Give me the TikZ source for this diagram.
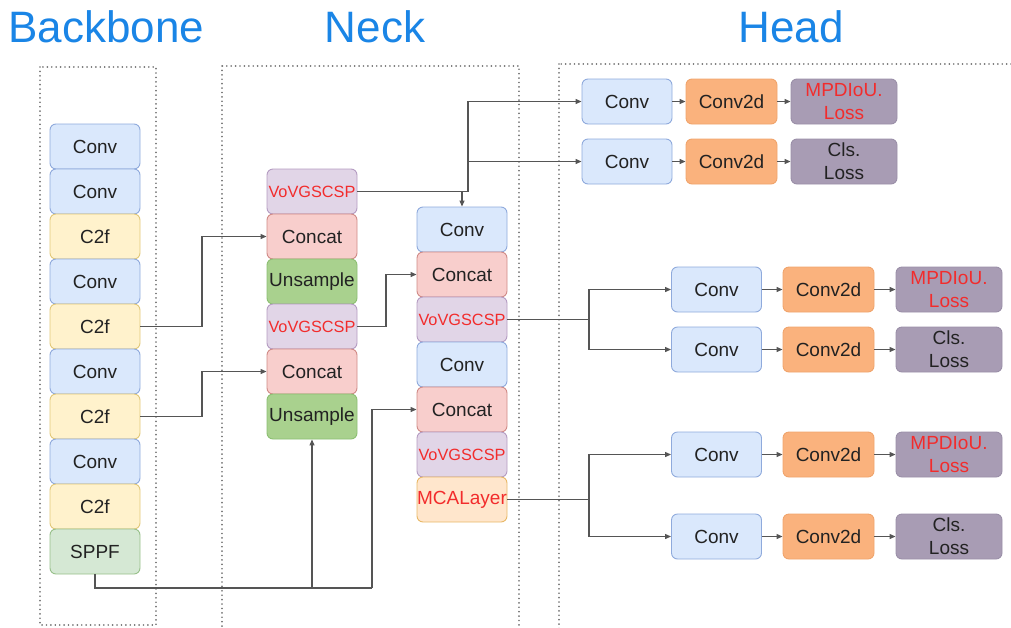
\documentclass[tikz,border=0pt]{standalone}
\usepackage{fontspec}
\setmainfont{Liberation Sans}
\usetikzlibrary{arrows.meta}

\definecolor{convF}{HTML}{DAE8FC}\definecolor{convD}{HTML}{8FAADC}
\definecolor{cfF}{HTML}{FFF2CC}\definecolor{cfD}{HTML}{E2C878}
\definecolor{spF}{HTML}{D5E8D4}\definecolor{spD}{HTML}{97C08A}
\definecolor{catF}{HTML}{F8CECC}\definecolor{catD}{HTML}{D08A86}
\definecolor{upF}{HTML}{A9D18E}\definecolor{upD}{HTML}{8CBF72}
\definecolor{vovF}{HTML}{E1D5E7}\definecolor{vovD}{HTML}{B49CC2}
\definecolor{mcaF}{HTML}{FFE6CC}\definecolor{mcaD}{HTML}{E8B866}
\definecolor{c2dF}{HTML}{FAB27D}\definecolor{c2dD}{HTML}{F0A46C}
\definecolor{lossF}{HTML}{A89CB4}\definecolor{lossD}{HTML}{9A8FA8}
\definecolor{hot}{HTML}{F22C2C}
\definecolor{titleblue}{HTML}{1A85E6}
\definecolor{wire}{HTML}{555555}
\definecolor{txt}{HTML}{222222}

\tikzset{
  blk/.style={rounded corners=6pt, line width=0.9pt, inner sep=0pt,
    minimum width=90pt, minimum height=45pt, text=txt,
    font=\fontsize{19}{23}\selectfont, align=center},
  convb/.style={blk, fill=convF, draw=convD},
  cfb/.style={blk, fill=cfF, draw=cfD},
  spb/.style={blk, fill=spF, draw=spD},
  catb/.style={blk, fill=catF, draw=catD},
  upb/.style={blk, fill=upF, draw=upD},
  vovb/.style={blk, fill=vovF, draw=vovD, text=hot, font=\fontsize{16.3}{20}\selectfont},
  mcab/.style={blk, fill=mcaF, draw=mcaD, text=hot},
  c2db/.style={blk, fill=c2dF, draw=c2dD, minimum width=91pt},
  lossb/.style={blk, fill=lossF, draw=lossD, minimum width=106pt},
  wireline/.style={draw=wire, line width=1.2pt},
  arr/.style={wireline, -{Triangle[length=6pt,width=5pt]}},
  zone/.style={draw=black!55, line width=1.8pt, dash pattern=on 0.01pt off 4.4pt, line cap=round},
  title/.style={text=titleblue, font=\fontsize{44}{50}\selectfont, anchor=base, inner sep=0pt}
}

\begin{document}
\begin{tikzpicture}[x=1pt,y=-1pt]
\useasboundingbox (0,0) rectangle (1011,627);

% section titles
\node[title] (tb) at (106.5,42) {Backbone};
\node[title] (tn) at (375,42) {Neck};
\node[title] (th) at (791,42) {Head};

% dotted frames of the three sections
\draw[zone] (40,67) rectangle (156,625);
\draw[zone] (222,66) rectangle (519,660);
\draw[zone] (559,64) rectangle (1060,660);

% backbone column
\node[convb] (b1)  at (95,146.5) {Conv};
\node[convb] (b2)  at (95,191.5) {Conv};
\node[cfb]   (b3)  at (95,236.5) {C2f};
\node[convb] (b4)  at (95,281.5) {Conv};
\node[cfb]   (b5)  at (95,326.5) {C2f};
\node[convb] (b6)  at (95,371.5) {Conv};
\node[cfb]   (b7)  at (95,416.5) {C2f};
\node[convb] (b8)  at (95,461.5) {Conv};
\node[cfb]   (b9)  at (95,506.5) {C2f};
\node[spb]   (b10) at (95,551.5) {SPPF};

% neck, first column
\node[vovb] (n1) at (312,191.5) {VoVGSCSP};
\node[catb] (n2) at (312,236.5) {Concat};
\node[upb]  (n3) at (312,281.5) {Unsample};
\node[vovb] (n4) at (312,326.5) {VoVGSCSP};
\node[catb] (n5) at (312,371.5) {Concat};
\node[upb]  (n6) at (312,416.5) {Unsample};

% neck, second column
\node[convb] (m1) at (462,229.5) {Conv};
\node[catb]  (m2) at (462,274.5) {Concat};
\node[vovb]  (m3) at (462,319.5) {VoVGSCSP};
\node[convb] (m4) at (462,364.5) {Conv};
\node[catb]  (m5) at (462,409.5) {Concat};
\node[vovb]  (m6) at (462,454.5) {VoVGSCSP};
\node[mcab]  (m7) at (462,499.5) {MCALayer};

% head, top scale
\node[convb] (h1a) at (627,101.5) {Conv};
\node[c2db]  (h1b) at (731.5,101.5) {Conv2d};
\node[lossb] (h1c) at (844,101.5) {\textcolor{hot}{MPDIoU.}\\\textcolor{hot}{Loss}};
\node[convb] (h2a) at (627,161.5) {Conv};
\node[c2db]  (h2b) at (731.5,161.5) {Conv2d};
\node[lossb] (h2c) at (844,161.5) {Cls.\\Loss};

% head, middle scale
\node[convb] (h3a) at (716.5,289.5) {Conv};
\node[c2db]  (h3b) at (828.5,289.5) {Conv2d};
\node[lossb] (h3c) at (949,289.5) {\textcolor{hot}{MPDIoU.}\\\textcolor{hot}{Loss}};
\node[convb] (h4a) at (716.5,349.5) {Conv};
\node[c2db]  (h4b) at (828.5,349.5) {Conv2d};
\node[lossb] (h4c) at (949,349.5) {Cls.\\Loss};

% head, bottom scale
\node[convb] (h5a) at (716.5,454.5) {Conv};
\node[c2db]  (h5b) at (828.5,454.5) {Conv2d};
\node[lossb] (h5c) at (949,454.5) {\textcolor{hot}{MPDIoU.}\\\textcolor{hot}{Loss}};
\node[convb] (h6a) at (716.5,536.5) {Conv};
\node[c2db]  (h6b) at (828.5,536.5) {Conv2d};
\node[lossb] (h6c) at (949,536.5) {Cls.\\Loss};

% junction points
\coordinate (jTop) at (468,191.5);
\coordinate (jMid) at (589,319.5);
\coordinate (jBot) at (589,499.5);
\coordinate (jSp)  at (95,588);

% backbone -> neck
\draw[arr] (b5.east) -- (202,326.5) |- (n2.west);
\draw[arr] (b7.east) -- (202,416.5) |- (n5.west);
\draw[wireline] (b10.south) -- (jSp) -- (372,588);
\draw[arr] (312,588) -- (n6.south);
\draw[arr] (372,588) |- (m5.west);
\draw[arr] (n4.east) -- (386,326.5) |- (m2.west);

% neck -> head, top scale
\draw[wireline] (n1.east) -- (jTop);
\draw[arr] (462,191.5) -- (m1.north);
\draw[arr] (jTop) |- (h1a.west);
\draw[arr] (468,161.5) -- (h2a.west);

% neck -> head, middle scale
\draw[wireline] (m3.east) -- (jMid);
\draw[arr] (jMid) |- (h3a.west);
\draw[arr] (jMid) |- (h4a.west);

% neck -> head, bottom scale
\draw[wireline] (m7.east) -- (jBot);
\draw[arr] (jBot) |- (h5a.west);
\draw[arr] (jBot) |- (h6a.west);

% head chains
\foreach \r in {1,...,6}{
  \draw[arr] (h\r a.east) -- (h\r b.west);
  \draw[arr] (h\r b.east) -- (h\r c.west);
}
\end{tikzpicture}
\end{document}
